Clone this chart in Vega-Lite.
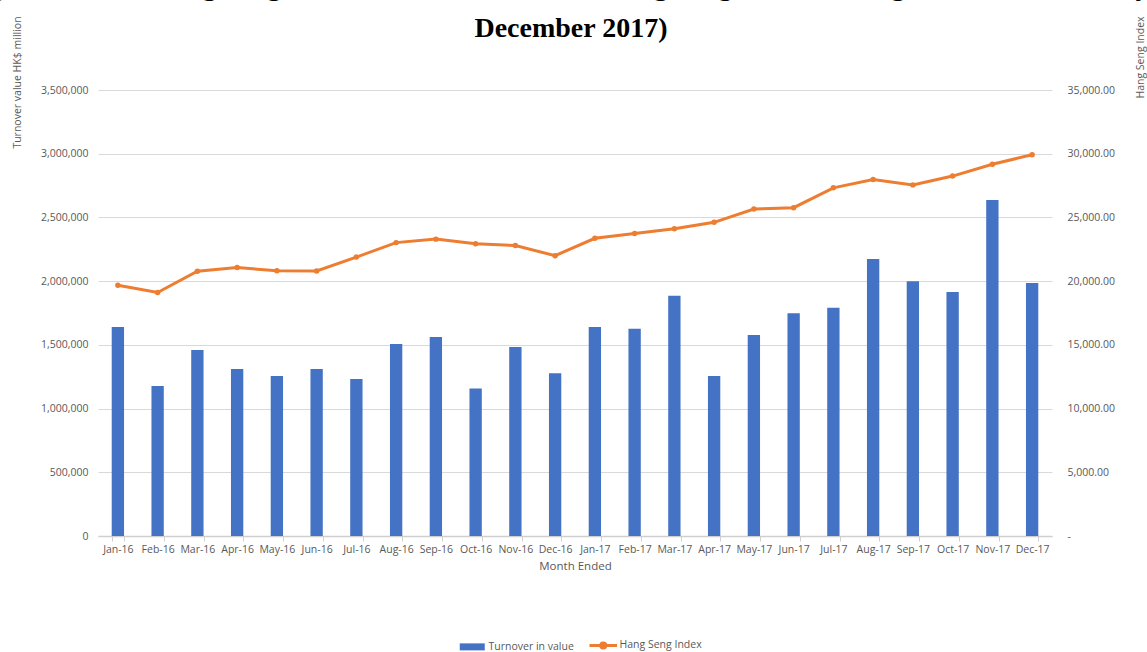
{
  "$schema": "https://vega.github.io/schema/vega-lite/v6.json",
  "autosize": {"type": "none"},
  "width": 954,
  "height": 446,
  "padding": {"top": 90, "left": 98, "right": 95, "bottom": 116},
  "background": "white",
  "title": {
    "text": ["(Turnover of Hang Seng Index Constituent Stocks, Hang Seng Index Closing Level from January", "December 2017)"],
    "font": "Liberation Serif",
    "fontWeight": "bold",
    "fontSize": 28,
    "color": "#000000",
    "anchor": "middle",
    "frame": "group",
    "lineHeight": 42,
    "baseline": "alphabetic",
    "offset": 0,
    "dy": 49,
    "dx": -4
  },
  "data": {
    "values": [
      {"month": "Jan-16", "turnover": 1640000, "hsi": 19683},
      {"month": "Feb-16", "turnover": 1177000, "hsi": 19112},
      {"month": "Mar-16", "turnover": 1460000, "hsi": 20777},
      {"month": "Apr-16", "turnover": 1310000, "hsi": 21067},
      {"month": "May-16", "turnover": 1256000, "hsi": 20815},
      {"month": "Jun-16", "turnover": 1310000, "hsi": 20794},
      {"month": "Jul-16", "turnover": 1232000, "hsi": 21891},
      {"month": "Aug-16", "turnover": 1507000, "hsi": 23023},
      {"month": "Sep-16", "turnover": 1562000, "hsi": 23297},
      {"month": "Oct-16", "turnover": 1157000, "hsi": 22935},
      {"month": "Nov-16", "turnover": 1483000, "hsi": 22790},
      {"month": "Dec-16", "turnover": 1277000, "hsi": 22001},
      {"month": "Jan-17", "turnover": 1640000, "hsi": 23361},
      {"month": "Feb-17", "turnover": 1627000, "hsi": 23741},
      {"month": "Mar-17", "turnover": 1886000, "hsi": 24111},
      {"month": "Apr-17", "turnover": 1256000, "hsi": 24615},
      {"month": "May-17", "turnover": 1577000, "hsi": 25661},
      {"month": "Jun-17", "turnover": 1748000, "hsi": 25765},
      {"month": "Jul-17", "turnover": 1792000, "hsi": 27323},
      {"month": "Aug-17", "turnover": 2174000, "hsi": 27970},
      {"month": "Sep-17", "turnover": 1999000, "hsi": 27554},
      {"month": "Oct-17", "turnover": 1915000, "hsi": 28245},
      {"month": "Nov-17", "turnover": 2637000, "hsi": 29177},
      {"month": "Dec-17", "turnover": 1985000, "hsi": 29919}
    ]
  },
  "encoding": {
    "x": {
      "field": "month",
      "type": "nominal",
      "sort": null,
      "scale": {"paddingInner": 0.69, "paddingOuter": 0.345},
      "axis": {
        "title": "Month Ended",
        "labelAngle": 0,
        "labelFont": "Open Sans",
        "labelFontSize": 10.5,
        "labelColor": "#595959",
        "labelPadding": 3,
        "domainColor": "#d0d0d0",
        "domainWidth": 1.5,
        "tickColor": "#d0d0d0",
        "tickSize": 5,
        "tickBand": "extent",
        "titleFont": "Open Sans",
        "titleFontSize": 11.5,
        "titleFontWeight": "normal",
        "titleColor": "#595959",
        "titlePadding": 6
      }
    }
  },
  "layer": [
    {
      "mark": {"type": "bar", "color": "#4472c4"},
      "encoding": {
        "y": {
          "field": "turnover",
          "type": "quantitative",
          "scale": {"domain": [0, 3500000], "nice": false},
          "axis": {
            "title": "Turnover value HK$ million",
            "values": [0, 500000, 1000000, 1500000, 2000000, 2500000, 3000000, 3500000],
            "format": ",.0f",
            "grid": true,
            "gridColor": "#d9d9d9",
            "domain": false,
            "ticks": false,
            "labelPadding": 10,
            "labelFont": "Open Sans",
            "labelFontSize": 10.5,
            "labelColor": "#595959",
            "titleFont": "Open Sans",
            "titleFontSize": 10.5,
            "titleFontWeight": "normal",
            "titleColor": "#595959",
            "titleAngle": -90,
            "titleAlign": "center",
            "titleBaseline": "middle",
            "titleX": -81,
            "titleY": -8
          }
        },
        "color": {
          "datum": "Turnover in value",
          "type": "nominal",
          "scale": {"domain": ["Turnover in value", "Hang Seng Index"], "range": ["#4472c4", "#ed7d31"]},
          "legend": {
            "title": null,
            "orient": "none",
            "direction": "horizontal",
            "legendX": 369,
            "legendY": 550,
            "labelFont": "Open Sans",
            "labelFontSize": 10.5,
            "labelColor": "#595959",
            "labelOffset": 11,
            "columnPadding": 9,
            "symbolSize": 625,
            "symbolOpacity": 1,
            "labelLimit": 300,
            "encode": {
              "symbols": {
                "update": {
                  "shape": {"signal": "datum.value === 'Hang Seng Index' ? 'M-1.1,0H1.1M-0.2,0A0.2,0.2 0 1,0 0.2,0A0.2,0.2 0 1,0 -0.2,0' : 'M-1,-0.28H1V0.28H-1Z'"},
                  "strokeWidth": {"signal": "datum.value === 'Hang Seng Index' ? 3 : 0"},
                  "fill": {"signal": "datum.value === 'Hang Seng Index' ? '#ed7d31' : '#4472c4'"},
                  "stroke": {"signal": "datum.value === 'Hang Seng Index' ? '#ed7d31' : '#4472c4'"},
                  "size": {"value": 625},
                  "opacity": {"value": 1}
                }
              }
            }
          }
        }
      }
    },
    {
      "mark": {"type": "line", "color": "#ed7d31", "strokeWidth": 3, "point": {"filled": true, "size": 30, "color": "#ed7d31"}},
      "encoding": {
        "y": {
          "field": "hsi",
          "type": "quantitative",
          "scale": {"domain": [0, 35000], "nice": false},
          "axis": {
            "orient": "right",
            "title": "Hang Seng Index",
            "values": [0, 5000, 10000, 15000, 20000, 25000, 30000, 35000],
            "labelExpr": "datum.value === 0 ? '-' : format(datum.value, ',.2f')",
            "grid": false,
            "domain": false,
            "ticks": false,
            "labelPadding": 15,
            "labelFont": "Open Sans",
            "labelFontSize": 10.5,
            "labelColor": "#595959",
            "titleFont": "Open Sans",
            "titleFontSize": 10.5,
            "titleFontWeight": "normal",
            "titleColor": "#595959",
            "titleAngle": -90,
            "titleAlign": "center",
            "titleBaseline": "middle",
            "titleX": 88,
            "titleY": -33
          }
        },
        "color": {"datum": "Hang Seng Index", "type": "nominal"}
      }
    }
  ],
  "resolve": {"scale": {"y": "independent"}},
  "config": {
    "view": {"stroke": null}
  }
}
